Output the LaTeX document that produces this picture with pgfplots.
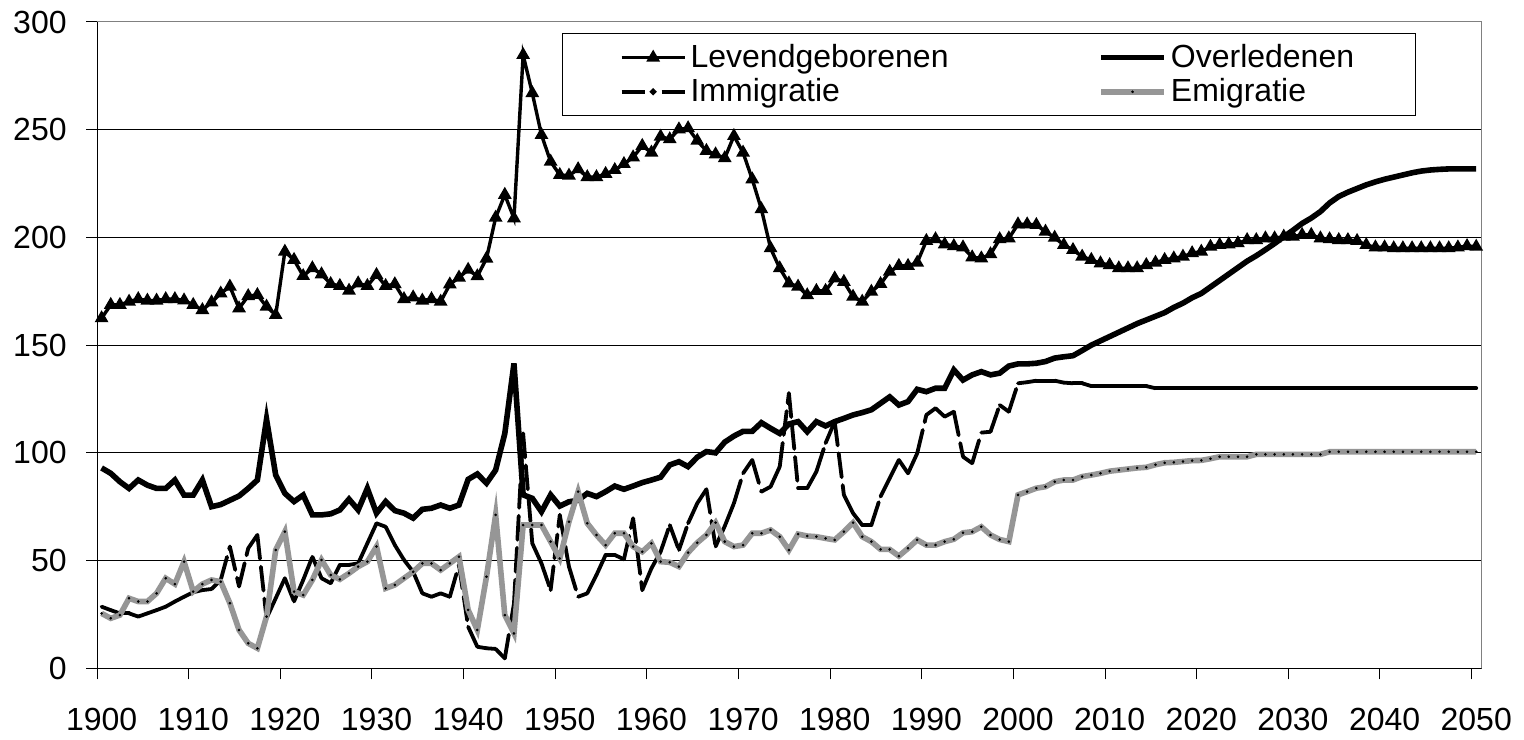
\documentclass[border=0pt]{standalone}
\usepackage{fontspec}
\setmainfont{Liberation Sans}
\usepackage{pgfplots}
\usepackage{pgfplotstable}
\pgfplotsset{compat=1.18}
\definecolor{emigray}{RGB}{150,150,150}
\definecolor{framegray}{RGB}{128,128,128}

\pgfplotstableread{
year L O I E
1900 162.5 93 28.6 25.5
1901 168.7 90.5 27 23.2
1902 168.7 86.6 25.5 24.7
1903 170.2 83.5 25.5 32.5
1904 171.4 87.4 24 31
1905 170.7 85 25.5 31
1906 170.7 83.5 27 34.8
1907 171.4 83.5 28.6 41.8
1908 171.4 87.4 31 39.1
1909 170.8 80.4 33.2 49.5
1910 168.7 80.4 35.3 35.6
1911 166.3 87.4 36.3 39.1
1912 169.9 75 36.8 41
1913 174 76 41 40.2
1914 177.2 78 56.5 30.2
1915 167.1 80 38 17.8
1916 172.8 83.5 55.7 11.6
1917 173.3 87.4 61.9 9.3
1918 167.9 115.6 23.2 24
1919 164 89.7 32.5 54.9
1920 193.4 81.2 41.8 63.4
1921 189.6 77.4 31 35.6
1922 182.1 80.4 41 34
1923 185.7 71.2 51.8 41
1924 182.9 71.2 41.8 50.3
1925 178.4 71.7 39.5 43.3
1926 177.5 73.5 48 41.3
1927 175.3 78.5 48 44.1
1928 178.7 73.5 48.7 47.2
1929 177.5 83.5 58 49.5
1930 182.6 72 67.3 56.5
1931 177.5 77.4 65.7 37.1
1932 178.3 73.2 57.2 38.7
1933 171.4 72 50.3 41.8
1934 172.2 69.7 44.8 44.8
1935 170.7 73.8 34.8 48.7
1936 171.4 74.3 33.2 48.7
1937 170.2 75.8 34.8 45.6
1938 178.2 74.3 33.2 48.7
1939 181.4 75.8 48 51.8
1940 185 87.7 19.3 27.1
1941 182 90.2 10 17.8
1942 190.2 85.9 9.3 42.5
1943 209.2 92 9 71.2
1944 219.8 109 4.6 24.7
1945 208.9 141.5 30 16.2
1946 284.7 80.5 109 66.5
1947 267 78.9 58 66.5
1948 247.6 72.7 48.7 66.5
1949 235.2 80.5 36.3 58.8
1950 229 75.3 71.2 51
1951 228.7 77.3 47.2 68
1952 231.7 78 33.2 82
1953 228 81.2 34.8 67.3
1954 228 79.7 43.3 61.9
1955 229.5 82 52.6 57.2
1956 231.3 84.6 52.6 62.7
1957 234.1 83.1 50.6 62.7
1958 237.2 84.6 69.6 56.5
1959 242.5 86.2 36.3 54.1
1960 239.4 87.4 46.4 58
1961 246.8 88.7 54.1 49.5
1962 245.6 94.4 66.5 49.2
1963 250.2 95.9 54.9 47.2
1964 250.7 93.6 67.3 53.7
1965 244.9 98 76.6 58.3
1966 240.2 100.6 83.1 61.9
1967 238.6 100 56.5 67.6
1968 236.8 105 66 58.8
1969 247.1 107.8 76.6 56.5
1970 239.4 110 90.5 57.2
1971 227 110 96.7 62.7
1972 213.1 114 82 62.7
1973 195 111.4 84.3 64.2
1974 185.7 109 93.6 61.1
1975 178.7 113.4 127.7 54.9
1976 177.2 114.5 83.6 62.3
1977 173.2 109.8 83.6 61.4
1978 175.2 114.5 91.3 61.1
1979 175.2 112.5 104.5 60.3
1980 181 114.5 114.5 59.6
1981 179.4 116 80.5 63.4
1982 172.5 117.6 72 67.6
1983 170.2 118.7 66.5 61.1
1984 174.8 120 66.5 58.8
1985 178.4 123 79.7 55.2
1986 184.1 126 88.2 55.2
1987 186.8 122.2 96.7 52.1
1988 186.8 123.8 90.5 55.7
1989 188.3 129.5 99.8 59.6
1990 198.4 128.4 117.6 57.2
1991 199.2 130 120.7 57.2
1992 196.8 130 116.8 58.8
1993 196 138.5 119.1 59.9
1994 195.4 133.8 98.2 62.9
1995 190.8 136.2 95.2 63.4
1996 190.3 137.7 109.4 65.7
1997 192.2 136.2 109.8 61.9
1998 199.2 137 122.2 59.8
1999 199.6 140.3 119.1 58.8
2000 206.1 141.3 132.3 80.5
2001 206.1 141.3 132.8 82
2002 205.8 141.6 133.5 83.6
2003 202.7 142.4 133.5 84.3
2004 199.9 144 133.5 86.6
2005 196.5 144.6 132.6 87.4
2006 194.2 145.1 132.3 87.4
2007 191.1 147.5 132.3 89
2008 189.6 150 131 89.7
2009 188 152 131 90.5
2010 187.2 154 131 91.5
2011 185.7 156 131 92
2012 185.7 158 131 92.5
2013 185.7 160 131 93
2014 187.2 161.7 131 93.3
2015 188.3 163.4 130 94.5
2016 189.6 165.1 130 95.4
2017 190.3 167.5 130 95.6
2018 191.1 169.5 130 96
2019 192.7 172 130 96.4
2020 193.4 174 130 96.5
2021 195.7 177 130 97.3
2022 196.5 180 130 98.2
2023 196.8 183 130 98.2
2024 197.3 186 130 98.2
2025 198.8 189 130 98.2
2026 198.8 191.5 130 99.3
2027 199.6 194.3 130 99.3
2028 199.6 197.2 130 99.3
2029 200.4 200.3 130 99.3
2030 200.4 203.3 130 99.3
2031 201.2 206.5 130 99.3
2032 201.2 209 130 99.3
2033 199.6 212 130 99.3
2034 199.2 216 130 100.5
2035 198.8 219 130 100.5
2036 198.8 221 130 100.5
2037 198.4 222.7 130 100.5
2038 196.5 224.4 130 100.5
2039 195.4 225.8 130 100.5
2040 195.4 227 130 100.5
2041 195 228 130 100.5
2042 195 229 130 100.5
2043 195 230 130 100.5
2044 195 230.8 130 100.5
2045 195 231.3 130 100.5
2046 195 231.6 130 100.5
2047 195 231.8 130 100.5
2048 195.4 231.8 130 100.5
2049 196 231.8 130 100.5
2050 195.7 231.8 130 100.5
}\data

\pgfplotsset{
  births/.style={black, line width=1.7pt, mark=triangle*, mark size=3.2pt, mark options={solid, black, line width=0.8pt}},
  deaths/.style={black, line width=2.8pt, no marks},
  immi/.style={black, line width=1.9pt, line cap=round, dash pattern=on 12pt off 4pt, no marks},
  emi/.style={emigray, line width=2.8pt, mark=*, mark size=0.55pt, mark options={solid, black, fill=black, line width=0.2pt}},
}

\begin{document}
\begin{tikzpicture}
\useasboundingbox (-48.5pt,-35.35pt) rectangle (713.5pt,334.15pt);
\begin{axis}[
  at={(0,0)}, anchor=south west,
  scale only axis, width=692.35pt, height=323.15pt,
  xmin=1900, xmax=2051.1, ymin=0, ymax=300,
  xtick={1900,1910,...,2050}, ytick={0,50,...,300},
  tick pos=left, tick align=outside, major tick length=5.5pt,
  tick style={black, line width=0.5pt},
  ymajorgrids, grid style={black, line width=0.5pt},
  axis line style={framegray, line width=0.5pt},
  /pgf/number format/assume math mode=true,
  /pgf/number format/1000 sep={},
  tick label style={font=\fontsize{16}{19}\selectfont},
  xticklabel style={anchor=north, inner sep=0pt, yshift=-14pt, xshift=2.3pt},
  yticklabel style={anchor=east, inner sep=0pt, xshift=-9.5pt},
  legend columns=2,
  legend cell align=left,
  legend image code/.code={
    \draw[mark repeat=2,mark phase=2,#1] plot coordinates {(0pt,0pt) (15.75pt,0pt) (31.5pt,0pt)};
  },
  legend style={at={(0.3358,0.983)}, anchor=north west, draw=black, line width=0.5pt,
    inner xsep=28.65pt, inner ysep=3.5pt,
    font=\fontsize{16}{19}\selectfont,
    nodes={inner sep=2pt, text depth=0.15em},
    /tikz/every even column/.append style={column sep=72.85pt}},
]
\addplot[births] table[x expr=\thisrow{year}+0.5, y=L] {\data};
\addlegendentry{Levendgeborenen}
\addplot[deaths] table[x expr=\thisrow{year}+0.5, y=O] {\data};
\addlegendentry{Overledenen}
\addlegendimage{black, line width=1.9pt, dash pattern=on 11.5pt off 8.5pt, mark=*, mark size=0.55pt, mark options={solid, black}}
\addlegendentry{Immigratie}
\pgfplotsinvokeforeach{0,...,149}{
  \pgfplotstablegetelem{#1}{year}\of\data \pgfmathsetmacro\xa{\pgfplotsretval+0.5}
  \pgfplotstablegetelem{#1}{I}\of\data \let\ya\pgfplotsretval
  \pgfmathtruncatemacro\nxt{#1+1}
  \pgfplotstablegetelem{\nxt}{year}\of\data \pgfmathsetmacro\xb{\pgfplotsretval+0.5}
  \pgfplotstablegetelem{\nxt}{I}\of\data \let\yb\pgfplotsretval
  \edef\tmp{\noexpand\addplot[immi, forget plot] coordinates {(\xa,\ya) (\xb,\yb)};}
  \tmp
}
\addplot[emi] table[x expr=\thisrow{year}+0.5, y=E] {\data};
\addlegendentry{Emigratie}
\draw[black, line width=0.5pt] (rel axis cs:0,1) -- (rel axis cs:0,0) -- (rel axis cs:1,0);
\end{axis}
\end{tikzpicture}
\end{document}
